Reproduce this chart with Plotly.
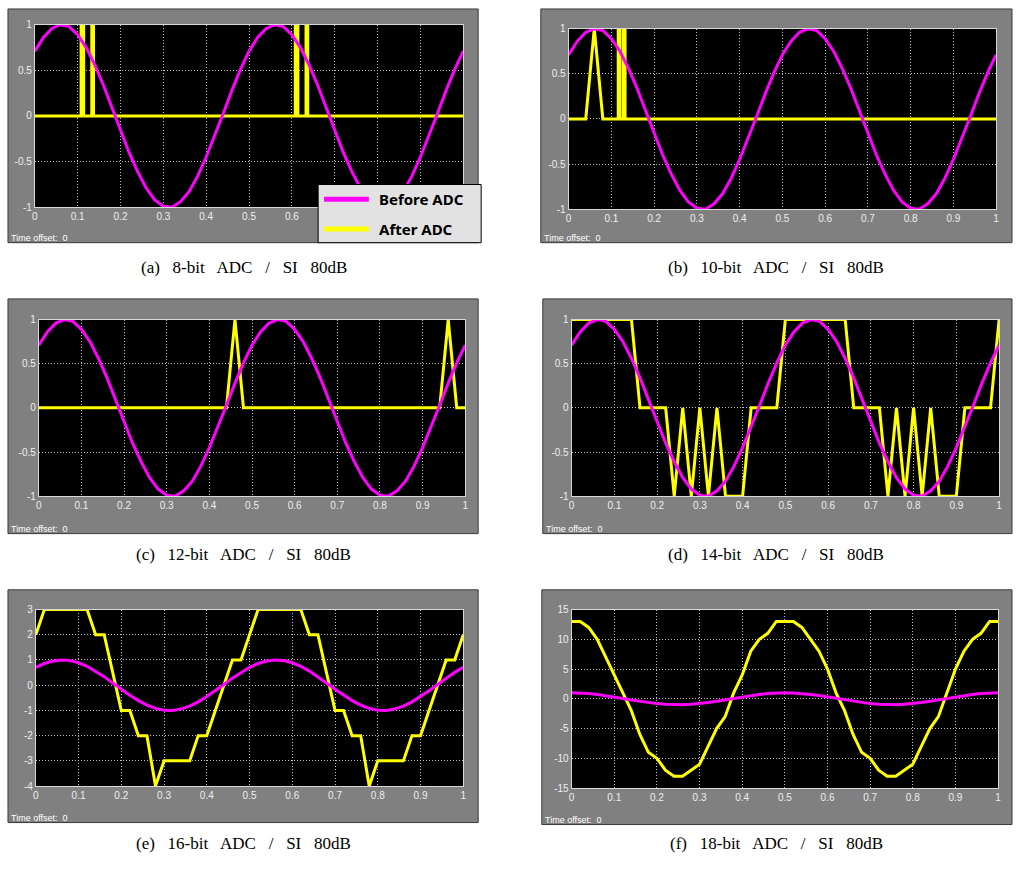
import plotly.graph_objects as go

# ---------------- data ----------------
t_grid = [0.00, 0.02, 0.04, 0.06, 0.08, 0.10, 0.12, 0.14, 0.16, 0.18,
          0.20, 0.22, 0.24, 0.26, 0.28, 0.30, 0.32, 0.34, 0.36, 0.38,
          0.40, 0.42, 0.44, 0.46, 0.48, 0.50, 0.52, 0.54, 0.56, 0.58,
          0.60, 0.62, 0.64, 0.66, 0.68, 0.70, 0.72, 0.74, 0.76, 0.78,
          0.80, 0.82, 0.84, 0.86, 0.88, 0.90, 0.92, 0.94, 0.96, 0.98, 1.00]

# "Before ADC" signal, panels (a)-(e)
before_sin = [0.71, 0.86, 0.96, 1.00, 0.98, 0.89, 0.75, 0.56, 0.34, 0.09,
              -0.16, -0.40, -0.61, -0.79, -0.92, -0.99, -1.00, -0.94, -0.83, -0.66,
              -0.45, -0.22, 0.03, 0.28, 0.51,
              0.71, 0.86, 0.96, 1.00, 0.98, 0.89, 0.75, 0.56, 0.34, 0.09,
              -0.16, -0.40, -0.61, -0.79, -0.92, -0.99, -1.00, -0.94, -0.83, -0.66,
              -0.45, -0.22, 0.03, 0.28, 0.51, 0.71]

# "Before ADC" signal, panel (f)
before_cos = [1.00, 0.97, 0.88, 0.73, 0.54, 0.31, 0.06, -0.19, -0.43, -0.64,
              -0.81, -0.93, -0.99, -0.99, -0.93, -0.81, -0.64, -0.43, -0.19, 0.06,
              0.31, 0.54, 0.73, 0.88, 0.97,
              1.00, 0.97, 0.88, 0.73, 0.54, 0.31, 0.06, -0.19, -0.43, -0.64,
              -0.81, -0.93, -0.99, -0.99, -0.93, -0.81, -0.64, -0.43, -0.19, 0.06,
              0.31, 0.54, 0.73, 0.88, 0.97, 1.00]

# "After ADC" signals
t_a = [0, 0.108, 0.108, 0.114, 0.114, 0.133, 0.133, 0.137, 0.137,
       0.608, 0.608, 0.614, 0.614, 0.633, 0.633, 0.637, 0.637, 1]
after_a = [0, 0, 1, 1, 0, 0, 1, 1, 0, 0, 1, 1, 0, 0, 1, 1, 0, 0]

t_b = [0, 0.04, 0.06, 0.08, 0.116, 0.116, 0.12, 0.12, 0.128, 0.128, 0.132, 0.132, 1]
after_b = [0, 0, 1, 0, 0, 1, 1, 0, 0, 1, 1, 0, 0]

t_c = [0, 0.44, 0.46, 0.48, 0.94, 0.96, 0.98, 1]
after_c = [0, 0, 1, 0, 0, 1, 0, 0]

t_d = [0, 0.14, 0.16, 0.22, 0.24, 0.26, 0.28, 0.30, 0.32, 0.34, 0.36, 0.40, 0.42, 0.48, 0.50,
       0.64, 0.66, 0.72, 0.74, 0.76, 0.78, 0.80, 0.82, 0.84, 0.86, 0.90, 0.92, 0.98, 1.00]
after_d = [1, 1, 0, 0, -1, 0, -1, 0, -1, 0, -1, -1, 0, 0, 1,
           1, 0, 0, -1, 0, -1, 0, -1, 0, -1, -1, 0, 0, 1]

t_e = [0, 0.02, 0.12, 0.14, 0.16, 0.20, 0.22, 0.24, 0.26, 0.28, 0.30, 0.36, 0.38, 0.40, 0.46, 0.48,
       0.52, 0.62, 0.64, 0.66, 0.70, 0.72, 0.74, 0.76, 0.78, 0.80, 0.86, 0.88, 0.90, 0.96, 0.98, 1.00]
after_e = [2, 3, 3, 2, 2, -1, -1, -2, -2, -4, -3, -3, -2, -2, 1, 1,
           3, 3, 2, 2, -1, -1, -2, -2, -4, -3, -3, -2, -2, 1, 1, 2]

after_f = [13, 13, 12, 10, 7, 4, 1, -2, -6, -9, -10, -12, -13, -13, -12, -11, -8, -5, -3, 1,
           4, 8, 10, 11, 13,
           13, 13, 12, 10, 8, 5, 1, -2, -6, -9, -10, -12, -13, -13, -12, -11, -8, -5, -3, 1,
           5, 8, 10, 11, 13, 13]

x_ticks = [0, 0.1, 0.2, 0.3, 0.4, 0.5, 0.6, 0.7, 0.8, 0.9, 1]
x_tick_labels = ["0", "0.1", "0.2", "0.3", "0.4", "0.5", "0.6", "0.7", "0.8", "0.9", "1"]
# in panel (a) the labels 0.7 ... 1 are hidden behind the legend box
x_tick_labels_a = ["0", "0.1", "0.2", "0.3", "0.4", "0.5", "0.6", "", "", "", ""]
y_ticks_unit = [-1, -0.5, 0, 0.5, 1]
y_labels_unit = ["-1", "-0.5", "0", "0.5", "1"]
y_ticks_e = [-4, -3, -2, -1, 0, 1, 2, 3]
y_labels_e = ["-4", "-3", "-2", "-1", "0", "1", "2", "3"]
y_ticks_f = [-15, -10, -5, 0, 5, 10, 15]
y_labels_f = ["-15", "-10", "-5", "0", "5", "10", "15"]

series_names = ["Before ADC", "After ADC"]
captions = ["(a)   8-bit   ADC   /   SI   80dB", "(b)   10-bit   ADC   /   SI   80dB",
            "(c)   12-bit   ADC   /   SI   80dB", "(d)   14-bit   ADC   /   SI   80dB",
            "(e)   16-bit   ADC   /   SI   80dB", "(f)   18-bit   ADC   /   SI   80dB"]

# ---------------- layout geometry (pixels) ----------------
W, H = 1016, 869
plot_px = [(32, 463, 19, 204), (569, 999, 23, 206),
           (36, 465, 318, 497), (572, 1002, 318, 497),
           (33, 463, 612, 791), (572, 1001, 612, 793)]
box_px = [(5, 478, 3, 240), (541, 1015, 3, 240),
          (5, 478, 297, 535), (543, 1015, 297, 535),
          (5, 478, 592, 828), (542, 1015, 592, 830)]
caption_px = [(242, 265), (778, 265), (242, 556), (778, 556), (242, 849), (778, 849)]
legend_box_px = (317, 481, 181, 240)


def fx(px):
    return px / W


def fy(py):
    return 1 - py / H


MAGENTA = "#ff00ff"
YELLOW = "#ffff00"

panels = [
    (t_a, after_a, before_sin, x_tick_labels_a, y_ticks_unit, y_labels_unit, [-1, 1]),
    (t_b, after_b, before_sin, x_tick_labels, y_ticks_unit, y_labels_unit, [-1, 1]),
    (t_c, after_c, before_sin, x_tick_labels, y_ticks_unit, y_labels_unit, [-1, 1]),
    (t_d, after_d, before_sin, x_tick_labels, y_ticks_unit, y_labels_unit, [-1, 1]),
    (t_e, after_e, before_sin, x_tick_labels, y_ticks_e, y_labels_e, [-4, 3]),
    (t_grid, after_f, before_cos, x_tick_labels, y_ticks_f, y_labels_f, [-15, 15]),
]

fig = go.Figure()
shapes = []
annotations = []
layout = {}

for i, (ta, va, vb, xl, yt, yl, yr) in enumerate(panels):
    n = i + 1
    xa = "x" if n == 1 else f"x{n}"
    ya = "y" if n == 1 else f"y{n}"
    fig.add_trace(go.Scatter(x=ta, y=va, mode="lines", name=series_names[1],
                             line=dict(color=YELLOW, width=3),
                             xaxis=xa, yaxis=ya, showlegend=False, hoverinfo="skip"))
    fig.add_trace(go.Scatter(x=t_grid, y=vb, mode="lines", name=series_names[0],
                             line=dict(color=MAGENTA, width=3),
                             xaxis=xa, yaxis=ya, showlegend=False, hoverinfo="skip"))

    x0, x1, y0, y1 = plot_px[i]
    axis_common = dict(showline=True, linecolor="#d8d8d8", linewidth=1, mirror=True,
                       showgrid=True, gridcolor="#c4c4c4", griddash="1px,2px", gridwidth=1,
                       zeroline=False, ticks="", fixedrange=True,
                       tickfont=dict(family="Liberation Sans, Arial", size=10, color="#eeeeee"))
    layout["xaxis" if n == 1 else f"xaxis{n}"] = dict(
        domain=[fx(x0), fx(x1)], range=[0, 1], anchor=ya,
        tickmode="array", tickvals=x_ticks, ticktext=xl, **axis_common)
    layout["yaxis" if n == 1 else f"yaxis{n}"] = dict(
        domain=[fy(y1), fy(y0)], range=yr, anchor=xa,
        tickmode="array", tickvals=yt, ticktext=yl, **axis_common)

    # grey scope panel
    bx0, bx1, by0, by1 = box_px[i]
    shapes.append(dict(type="rect", xref="paper", yref="paper",
                       x0=fx(bx0), x1=fx(bx1), y0=fy(by1), y1=fy(by0),
                       fillcolor="#808080", line=dict(color="#3a3a3a", width=1),
                       layer="below"))
    # black plotting area
    shapes.append(dict(type="rect", xref=f"{xa} domain", yref=f"{ya} domain",
                       x0=0, x1=1, y0=0, y1=1, fillcolor="#000000",
                       line=dict(width=0), layer="below"))
    annotations.append(dict(text="Time offset:  0", xref="paper", yref="paper",
                            x=fx(bx0 + 1), y=fy(by1 - 5), xanchor="left", yanchor="middle",
                            showarrow=False,
                            font=dict(family="Liberation Sans, Arial", size=9, color="#ffffff")))
    cx, cy = caption_px[i]
    annotations.append(dict(text=captions[i], xref="paper", yref="paper",
                            x=fx(cx), y=fy(cy), xanchor="center", yanchor="middle",
                            showarrow=False,
                            font=dict(family="Liberation Serif, Times New Roman", size=17,
                                      color="#000000")))

# legend box of panel (a)
lx0, lx1, ly0, ly1 = legend_box_px
shapes.append(dict(type="rect", xref="paper", yref="paper",
                   x0=fx(lx0), x1=fx(lx1), y0=fy(ly1), y1=fy(ly0),
                   fillcolor="#e2e2e2", line=dict(color="#000000", width=1), layer="above"))
for k, (col, name) in enumerate([(MAGENTA, series_names[0]), (YELLOW, series_names[1])]):
    row_y = ly0 + 15 + 30 * k
    shapes.append(dict(type="line", xref="paper", yref="paper",
                       x0=fx(lx0 + 6), x1=fx(lx0 + 51), y0=fy(row_y), y1=fy(row_y),
                       line=dict(color=col, width=5), layer="above"))
    annotations.append(dict(text=name, xref="paper", yref="paper",
                            x=fx(lx0 + 59), y=fy(row_y), xanchor="left", yanchor="middle",
                            showarrow=False,
                            font=dict(family="Noto Sans", size=15, color="#000000",
                                      weight="bold")))

fig.update_layout(
    width=W, height=H,
    margin=dict(l=0, r=0, t=0, b=0),
    paper_bgcolor="#ffffff",
    plot_bgcolor="rgba(0,0,0,0)",
    shapes=shapes,
    annotations=annotations,
    showlegend=False,
    **layout,
)

fig.write_html("out.html")
